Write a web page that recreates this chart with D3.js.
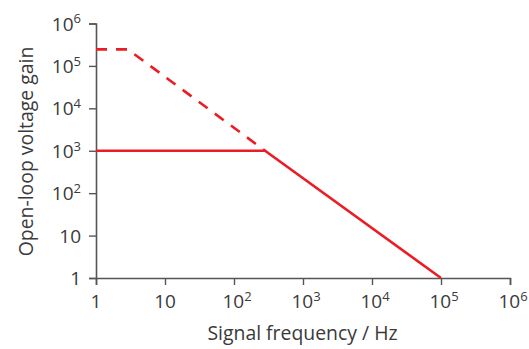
<!DOCTYPE html>
<html>
<head>
<meta charset="utf-8">
<script src="https://cdn.jsdelivr.net/npm/d3@7"></script>
<style>
  html, body { margin: 0; padding: 0; background: #fff; }
  svg text { font-family: "Open Sans", "Noto Sans", sans-serif; fill: #3a3a3a; }
</style>
</head>
<body>
<svg id="chart" width="529" height="349"></svg>
<script>
// Decade tick values shared by both axes (exponents 0..6)
const xTickExponents = [0, 1, 2, 3, 4, 5, 6];
const yTickExponents = [0, 1, 2, 3, 4, 5, 6];

// Open-loop response without feedback limit (dashed): frequency (Hz), gain
const openLoopFreq = [1, 2.9, 282];
const openLoopGain = [245000, 245000, 1000];

// Response with gain set to 1000 (solid): frequency (Hz), gain
const closedFreq = [1, 282, 100000];
const closedGain = [1000, 1000, 1];

const svg = d3.select("#chart");
const margin = { left: 96, right: 19, top: 23.5, bottom: 71 };
const W = 529, H = 349;

const x = d3.scaleLog().domain([1, 1e6]).range([margin.left, W - margin.right]);
const y = d3.scaleLog().domain([1, 1e6]).range([H - margin.bottom, margin.top]);

const axisColor = "#555";
const red = "#ea1c24";

// Tick label: "1", "10", or "10" with superscript exponent
function tickLabel(sel, e) {
  sel.each(function () {
    const t = d3.select(this);
    if (e === 0) { t.text("1"); }
    else if (e === 1) { t.text("10"); }
    else {
      t.append("tspan").text("10");
      t.append("tspan").attr("dy", "-0.55em").style("font-size", "13px").text(e);
    }
  });
}

// X axis
const xAxis = d3.axisBottom(x).tickValues(xTickExponents.map(e => Math.pow(10, e)))
  .tickSize(7).tickFormat("");
const gx = svg.append("g").attr("transform", `translate(0,${y(1)})`).call(xAxis);
gx.select(".domain").attr("stroke", axisColor).attr("stroke-width", 1.6);
gx.selectAll(".tick line").attr("stroke", axisColor).attr("stroke-width", 1.4);
xTickExponents.forEach(e => {
  const t = svg.append("text")
    .attr("x", x(Math.pow(10, e)))
    .attr("y", y(1) + 30)
    .attr("text-anchor", "middle")
    .style("font-size", "19px");
  tickLabel(t, e);
  if (e >= 2) t.attr("x", x(Math.pow(10, e)) + 3);
});

// Y axis
const yAxis = d3.axisLeft(y).tickValues(yTickExponents.map(e => Math.pow(10, e)))
  .tickSize(7).tickFormat("");
const gy = svg.append("g").attr("transform", `translate(${x(1)},0)`).call(yAxis);
gy.select(".domain").attr("stroke", axisColor).attr("stroke-width", 1.6);
gy.selectAll(".tick line").attr("stroke", axisColor).attr("stroke-width", 1.4);
yTickExponents.forEach(e => {
  const t = svg.append("text")
    .attr("x", x(1) - 15)
    .attr("y", y(Math.pow(10, e)) + 7)
    .attr("text-anchor", "end")
    .style("font-size", "19px");
  tickLabel(t, e);
});

// Axis titles
svg.append("text")
  .attr("x", 302.5)
  .attr("y", 340)
  .attr("text-anchor", "middle")
  .style("font-size", "19.4px")
  .text("Signal frequency / Hz");

svg.append("text")
  .attr("transform", `translate(33,151.5) rotate(-90)`)
  .attr("text-anchor", "middle")
  .style("font-size", "19.4px")
  .text("Open-loop voltage gain");

// Response lines
const line = d3.line().x(d => x(d[0])).y(d => y(d[1]));

svg.append("path")
  .datum(openLoopFreq.map((f, i) => [f, openLoopGain[i]]))
  .attr("d", line)
  .attr("fill", "none")
  .attr("stroke", red)
  .attr("stroke-width", 2.6)
  .attr("stroke-dasharray", "11,9");

svg.append("path")
  .datum(closedFreq.map((f, i) => [f, closedGain[i]]))
  .attr("d", line)
  .attr("fill", "none")
  .attr("stroke", red)
  .attr("stroke-width", 2.6);
</script>
</body>
</html>
